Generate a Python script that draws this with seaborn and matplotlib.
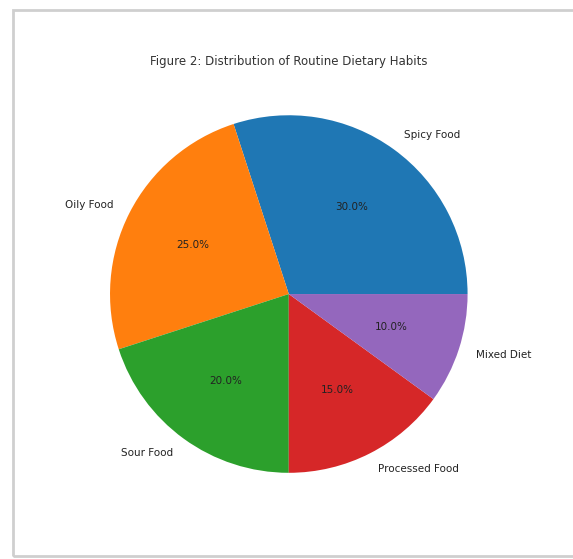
import matplotlib
matplotlib.use("Agg")
import matplotlib.pyplot as plt
from matplotlib.patches import Rectangle
import seaborn as sns

# diet habit shares (percent)
habits = ["Spicy Food", "Oily Food", "Sour Food", "Processed Food", "Mixed Diet"]
shares = [30, 25, 20, 15, 10]

sns.set_theme(style="white")
colors = sns.color_palette("tab10", len(habits))

fig = plt.figure(figsize=(5.73, 5.59), dpi=100)
ax = fig.add_axes([0.114, 0.074, 0.780, 0.800])

ax.pie(shares, labels=habits, autopct="%1.1f%%", colors=colors,
       wedgeprops={"linewidth": 0},
       textprops={"fontsize": 7.5, "color": "#222222"})
ax.set_title("Figure 2: Distribution of Routine Dietary Habits", fontsize=8.5,
             color="#333333", pad=4)
ax.set_aspect("equal")

# light screenshot frame around the figure
frame = Rectangle((13 / 573, 3 / 559), 1.05, 546 / 559, transform=fig.transFigure,
                  fill=False, edgecolor="#cfcfcf", linewidth=2.0, clip_on=False)
fig.patches.append(frame)

fig.savefig("out.png", dpi=100)
